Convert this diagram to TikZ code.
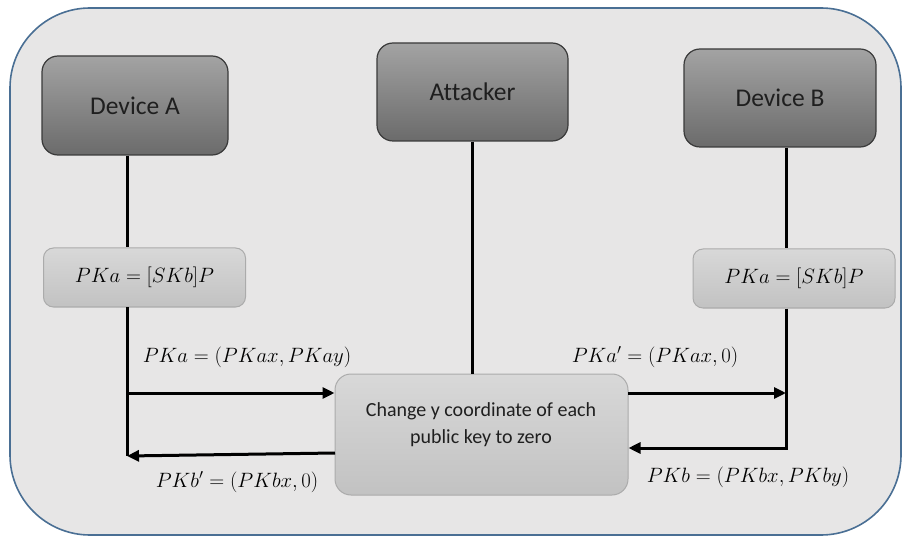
\documentclass[tikz,border=0pt]{standalone}
\usepackage{fontspec}
\setmainfont{Carlito}[Ligatures=NoCommon]
\usetikzlibrary{arrows.meta}

\definecolor{framefill}{HTML}{E7E6E6}
\definecolor{frameline}{HTML}{4A6F94}
\definecolor{devtop}{HTML}{A3A3A3}
\definecolor{devbot}{HTML}{6B6B6B}
\definecolor{devline}{HTML}{3A3A3A}
\definecolor{keytop}{HTML}{D8D8D8}
\definecolor{keybot}{HTML}{C2C2C2}
\definecolor{keyline}{HTML}{ABABAB}

\tikzset{
  devbox/.style={draw=devline, line width=1.2pt, rounded corners=16pt,
    top color=devtop, bottom color=devbot, text=black!88,
    font=\fontsize{25.5}{30}\selectfont, inner sep=0pt},
  keybox/.style={draw=keyline, line width=1pt, rounded corners=10pt,
    top color=keytop, bottom color=keybot, inner sep=0pt,
    minimum width=202pt, minimum height=59pt},
  mathlbl/.style={font=\fontsize{20}{24}\selectfont, text=black, inner sep=0pt},
  wire/.style={line width=3pt, black},
  arrow/.style={wire, -{Triangle[length=12pt,width=11pt]}},
}

\begin{document}
\begin{tikzpicture}[x=1pt, y=-1pt]
\useasboundingbox (0,0) rectangle (902,537);

% outer panel
\draw[frameline, line width=1.6pt, fill=framefill, rounded corners=80pt]
  (10,8) rectangle (901,535);

% parties
\node[devbox, minimum width=186pt, minimum height=99pt] (devA) at (135,105.5) {Device A};
\node[devbox, minimum width=191pt, minimum height=98pt] (att)  at (472.5,92) {Attacker};
\node[devbox, minimum width=192pt, minimum height=98pt] (devB) at (780,98) {Device B};

% key computation boxes
\node[keybox] (pkaL) at (144.5,277.5) {};
\node[mathlbl] (pkaLtxt) at (pkaL) {$PKa=[SKb]P$};
\node[keybox] (pkaR) at (794,278.5) {};
\node[mathlbl] (pkaRtxt) at (pkaR) {$PKa=[SKb]P$};

% attacker's manipulation step
\node[keybox, minimum width=293pt, minimum height=121pt, rounded corners=16pt] (chg) at (481.5,434.5) {};
\node[align=center, font=\fontsize{20}{27}\selectfont, text=black!88] (chgtxt) at (481,425)
  {Change y coordinate of each\\public key to zero};

% lifelines
\coordinate (aX) at (127,0);
\coordinate (bX) at (786,0);
\coordinate (aBot) at (127,456);
\coordinate (bBot) at (786,448);

\draw[wire] (devA.south -| aX) -- (pkaL.north -| aX);
\draw[wire] (pkaL.south -| aX) -- (aBot);
\draw[wire] (att.south) -- (att.south |- chg.north);
\draw[wire] (devB.south -| bX) -- (pkaR.north -| bX);

% messages
\coordinate (m1) at (127,393);
\draw[arrow] (m1) -- (m1 -| chg.west);
\coordinate (m2) at (335,453);
\draw[arrow] (m2) -- (aBot);
\coordinate (m3) at (628,393);
\draw[arrow] (m3) -- (m3 -| bX);
\draw[arrow, line join=miter] (pkaR.south -| bX) -- (bBot) -- (bBot -| chg.east);

% message labels
\node[mathlbl] (l1) at (247,357) {$PKa=(PKax,PKay)$};
\node[mathlbl] (l2) at (237,482) {$PKb'=(PKbx,0)$};
\node[mathlbl] (l3) at (655,357) {$PKa'=(PKax,0)$};
\node[mathlbl] (l4) at (748,477) {$PKb=(PKbx,PKby)$};
\end{tikzpicture}
\end{document}
